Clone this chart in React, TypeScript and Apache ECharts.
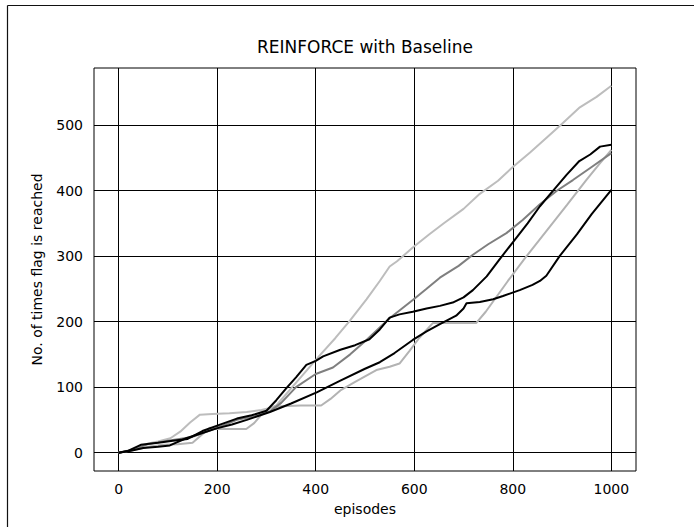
import React, { useEffect, useRef } from "react";
import * as echarts from "echarts";

const TITLE = "REINFORCE with Baseline";
const X_NAME = "episodes";
const Y_NAME = "No. of times flag is reached";
const X_TICKS = [0, 200, 400, 600, 800, 1000];
const Y_TICKS = [0, 100, 200, 300, 400, 500];

// [episode, cumulative count]
const runLightTop: [number, number][] = [
  [0, 0], [20, 3], [40, 8], [60, 14], [80, 17], [105, 22], [125, 32], [145, 46], [165, 58], [190, 59],
  [225, 60], [260, 62], [290, 65], [305, 68], [320, 72], [350, 98], [380, 124], [410, 150], [440, 175],
  [469, 201], [503, 234], [530, 262], [550, 284], [565, 292], [597, 313], [630, 333], [660, 350],
  [700, 372], [733, 395], [770, 415], [800, 436], [835, 458], [869, 481], [900, 502], [936, 527],
  [970, 543], [1000, 560],
];
const runLightLow: [number, number][] = [
  [0, 0], [30, 4], [60, 9], [90, 12], [120, 13], [150, 15], [170, 28], [185, 38], [200, 36], [230, 36],
  [259, 36], [275, 45], [290, 58], [307, 68], [330, 71], [370, 72], [411, 72], [430, 82], [450, 95],
  [480, 108], [523, 126], [550, 131], [570, 136], [590, 155], [610, 175], [638, 198], [660, 198],
  [700, 198], [726, 198], [745, 215], [790, 262], [827, 299], [870, 340], [910, 378], [949, 416],
  [975, 440], [1000, 462],
];
const runBlackHigh: [number, number][] = [
  [0, 0], [20, 3], [45, 12], [80, 15], [110, 18], [140, 21], [170, 33], [210, 44], [240, 52], [270, 57],
  [300, 64], [320, 80], [340, 98], [360, 115], [381, 134], [400, 140], [415, 147], [450, 157], [480, 164],
  [509, 173], [530, 188], [550, 206], [570, 211], [597, 215], [625, 220], [652, 224], [678, 229],
  [700, 237], [719, 248], [747, 269], [770, 292], [800, 321], [830, 350], [855, 376], [881, 399],
  [909, 424], [935, 445], [957, 455], [977, 467], [1000, 470],
];
const runGray: [number, number][] = [
  [0, 0], [30, 5], [60, 13], [100, 18], [150, 24], [200, 38], [240, 50], [280, 56], [307, 63], [330, 76],
  [360, 100], [400, 120], [435, 130], [470, 150], [503, 172], [550, 205], [597, 233], [625, 250],
  [652, 267], [690, 285], [719, 302], [750, 318], [787, 335], [820, 355], [855, 379], [890, 400],
  [922, 416], [960, 436], [1000, 457],
];
const runBlackLow: [number, number][] = [
  [0, 0], [25, 3], [50, 7], [80, 9], [104, 11], [137, 22], [170, 30], [199, 37], [230, 43], [260, 50],
  [307, 62], [350, 75], [402, 92], [450, 110], [500, 128], [530, 138], [560, 152], [597, 172],
  [625, 185], [652, 196], [685, 209], [700, 220], [706, 228], [733, 230], [760, 234], [780, 239],
  [814, 248], [840, 256], [855, 262], [868, 270], [895, 300], [930, 333], [960, 364], [1000, 401],
];

const RUNS = [
  { name: "run 1", data: runLightTop, color: "#bdbdbd" },
  { name: "run 2", data: runLightLow, color: "#b3b3b3" },
  { name: "run 3", data: runGray, color: "#7f7f7f" },
  { name: "run 4", data: runBlackHigh, color: "#000000" },
  { name: "run 5", data: runBlackLow, color: "#000000" },
];

const FONT = "DejaVu Sans";

export default function App() {
  const ref = useRef<HTMLDivElement>(null);
  useEffect(() => {
    if (!ref.current) return;
    const chart = echarts.init(ref.current, null, { renderer: "svg" });
    chart.setOption({
      animation: false,
      backgroundColor: "#ffffff",
      textStyle: { fontFamily: FONT },
      grid: {
        left: 94, top: 68, width: 542, height: 403,
        show: true, borderColor: "#000", borderWidth: 1, backgroundColor: "transparent",
      },
      graphic: [
        { type: "line", shape: { x1: 7.5, y1: 5.5, x2: 694, y2: 5.5 }, style: { stroke: "#111", lineWidth: 1.2 } },
        { type: "line", shape: { x1: 7.5, y1: 5.5, x2: 7.5, y2: 527 }, style: { stroke: "#111", lineWidth: 1.2 } },
        {
          type: "text", x: 365, y: 47,
          style: { text: TITLE, fontSize: 17, fontFamily: FONT, fill: "#000", textAlign: "center", textVerticalAlign: "middle" },
        },
      ],
      xAxis: {
        type: "value", min: -50, max: 1050,
        name: X_NAME, nameLocation: "middle", nameGap: 31,
        nameTextStyle: { fontSize: 14, color: "#000", fontFamily: FONT },
        axisLine: { show: false },
        axisTick: { show: true, length: 5, lineStyle: { color: "#000" }, customValues: X_TICKS },
        axisLabel: {
          customValues: X_TICKS, fontSize: 14, color: "#000", fontFamily: FONT, margin: 11,
          formatter: (v: number) => String(v),
        },
        splitLine: { show: true, lineStyle: { color: "#000", width: 1 } },
      },
      yAxis: {
        type: "value", min: -28, max: 587,
        name: Y_NAME, nameLocation: "middle", nameGap: 50,
        nameTextStyle: { fontSize: 14, color: "#000", fontFamily: FONT },
        axisLine: { show: false },
        axisTick: { show: true, length: 5, lineStyle: { color: "#000" }, customValues: Y_TICKS },
        axisLabel: {
          customValues: Y_TICKS, fontSize: 14, color: "#000", fontFamily: FONT, margin: 11,
          formatter: (v: number) => String(v),
        },
        splitLine: { show: true, lineStyle: { color: "#000", width: 1 } },
      },
      series: RUNS.map((r) => ({
        type: "line",
        name: r.name,
        data: r.data,
        showSymbol: false,
        symbol: "none",
        lineStyle: { color: r.color, width: 2 },
        itemStyle: { color: r.color },
      })),
    });
    return () => chart.dispose();
  }, []);
  return <div ref={ref} style={{ position: "absolute", left: 0, top: 0, width: 694, height: 527 }} />;
}
